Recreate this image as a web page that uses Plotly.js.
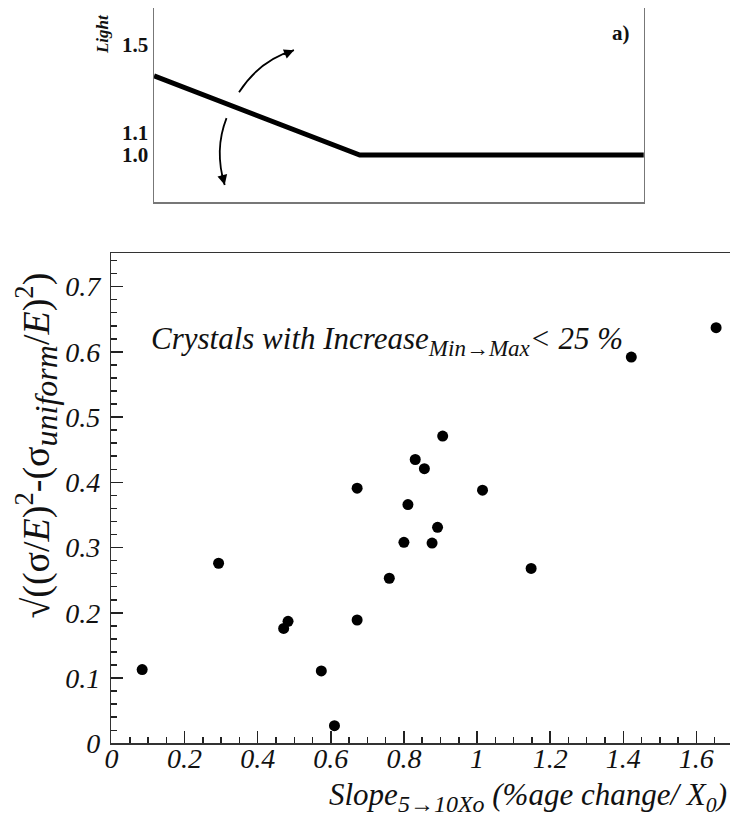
<!DOCTYPE html>
<html><head><meta charset="utf-8">
<script src="https://cdn.plot.ly/plotly-3.0.1.min.js"></script>
<style>html,body{margin:0;padding:0;background:#fff}</style>
</head><body>
<div id="chart" style="width:730px;height:818px"></div>
<script>
// Main scatter: slope (5->10 X0) vs resolution term
const slope = [0.084, 0.293, 0.471, 0.483, 0.574, 0.610, 0.672, 0.672, 0.760, 0.800,
               0.811, 0.831, 0.856, 0.877, 0.892, 0.906, 1.015, 1.148, 1.422, 1.654];
const resolution = [0.113, 0.276, 0.176, 0.187, 0.111, 0.027, 0.391, 0.189, 0.253, 0.308,
                    0.366, 0.435, 0.421, 0.307, 0.331, 0.471, 0.388, 0.268, 0.592, 0.637];

// Inset sketch a): light yield profile
const sketchX = [0, 0.42, 1];
const sketchLight = [1.36, 1.0, 1.0];
const sketchTickVals = [1.0, 1.1, 1.5];
const sketchTickText = ['1.0', '1.1', '1.5'];

const serif = 'Liberation Serif';
const ink = '#111';

const traces = [
  {x: slope, y: resolution, type: 'scatter', mode: 'markers', xaxis: 'x', yaxis: 'y',
   marker: {color: '#000', size: 11, symbol: 'circle'}, showlegend: false, hoverinfo: 'skip'},
  {x: sketchX, y: sketchLight, type: 'scatter', mode: 'lines', xaxis: 'x2', yaxis: 'y2',
   line: {color: '#000', width: 5}, showlegend: false, hoverinfo: 'skip'}
];

const layout = {
  width: 730, height: 818,
  margin: {l: 0, r: 0, t: 0, b: 0},
  paper_bgcolor: '#fff', plot_bgcolor: '#fff',
  showlegend: false,
  xaxis: {
    domain: [0.1527, 1], range: [0, 1.692], anchor: 'y',
    tick0: 0, dtick: 0.2, ticks: 'inside', ticklen: 12, tickwidth: 1.5, tickcolor: '#222',
    minor: {dtick: 0.05, ticks: 'inside', ticklen: 6, tickwidth: 1.5, tickcolor: '#222', showgrid: false},
    showline: true, linecolor: '#333', linewidth: 1.5, mirror: true,
    showgrid: false, zeroline: false, ticklabelstandoff: -10,
    tickfont: {family: serif, size: 28, style: 'italic', color: ink}
  },
  yaxis: {
    domain: [0.0913, 0.6903], range: [0, 0.751], anchor: 'x',
    tick0: 0, dtick: 0.1, ticks: 'inside', ticklen: 12, tickwidth: 1.5, tickcolor: '#222',
    minor: {dtick: 0.02, ticks: 'inside', ticklen: 6, tickwidth: 1.5, tickcolor: '#222', showgrid: false},
    showline: true, linecolor: '#333', linewidth: 1.5, mirror: false,
    showgrid: false, zeroline: false, ticklabelstandoff: 4,
    tickfont: {family: serif, size: 28, style: 'italic', color: ink}
  },
  xaxis2: {
    domain: [0.211, 0.882], range: [0, 1], anchor: 'y2',
    showticklabels: false, ticks: '', showgrid: false, zeroline: false,
    showline: true, linecolor: '#777', linewidth: 2
  },
  yaxis2: {
    domain: [0.753, 0.990], range: [0.786, 1.668], anchor: 'x2',
    tickvals: sketchTickVals, ticktext: sketchTickText, ticks: '',
    showgrid: false, zeroline: false,
    showline: true, mirror: true, linecolor: '#777', linewidth: 1.5,
    tickfont: {family: serif, size: 21, weight: 'bold', color: ink}
  },
  shapes: [
    {type: 'path', xref: 'x2', yref: 'y2', path: 'M 0.1735,1.286 Q 0.216,1.432 0.2857,1.477',
     line: {color: '#000', width: 1.8}},
    {type: 'path', xref: 'x2', yref: 'y2', path: 'M 0.148,1.168 Q 0.1224,1.023 0.1443,0.864',
     line: {color: '#000', width: 1.8}}
  ],
  annotations: [
    {xref: 'x2', yref: 'y2', x: 0.2857, y: 1.477, ax: -12, ay: 5, text: '', showarrow: true,
     arrowhead: 2, arrowsize: 1.1, arrowwidth: 1.8, arrowcolor: '#000', standoff: 0},
    {xref: 'x2', yref: 'y2', x: 0.1443, y: 0.864, ax: -3, ay: -12, text: '', showarrow: true,
     arrowhead: 2, arrowsize: 1.1, arrowwidth: 1.8, arrowcolor: '#000', standoff: 0},
    {xref: 'paper', yref: 'paper', x: 0.125, y: 0.985, text: 'Light', textangle: -90, showarrow: false,
     font: {family: serif, size: 17, weight: 'bold', style: 'italic', color: ink}},
    {xref: 'paper', yref: 'paper', x: 0.866, y: 0.977, text: 'a)', showarrow: false,
     font: {family: serif, size: 21, weight: 'bold', color: ink}},
    {xref: 'x', yref: 'y', x: 0.103, y: 0.617, xanchor: 'left', yanchor: 'middle', showarrow: false,
     text: "Crystals with Increase<sub><span style='font-size:23px'>Min→Max</span></sub>&lt; 25 %",
     font: {family: serif, size: 31, style: 'italic', color: ink}},
    {xref: 'paper', yref: 'paper', x: 0.01, y: 0.455, textangle: -90, showarrow: false,
     text: "√((σ/<i>E</i>)<sup>2</sup>-(σ<sub><i><span style='font-size:32px'>uniform</span></i></sub>/<i>E</i>)<sup>2</sup>)",
     font: {family: serif, size: 38, color: ink}},
    {xref: 'paper', yref: 'paper', x: 0.998, y: 0.0257, xanchor: 'right', yanchor: 'middle', showarrow: false,
     text: "Slope<sub><span style='font-size:24px'>5→10Xo</span></sub> (%age change/ X<sub>0</sub>)",
     font: {family: serif, size: 31, style: 'italic', color: ink}}
  ]
};

Plotly.newPlot('chart', traces, layout, {staticPlot: true, displayModeBar: false});
</script>
</body></html>
